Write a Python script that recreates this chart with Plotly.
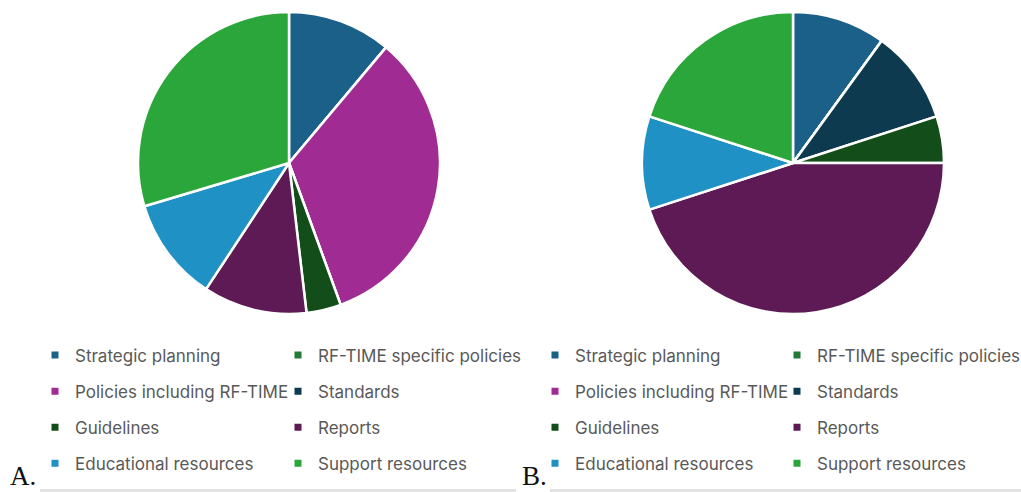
import plotly.graph_objects as go

# ---- data ----
categories = [
    "Strategic planning",
    "RF-TIME specific policies",
    "Policies including RF-TIME",
    "Standards",
    "Guidelines",
    "Reports",
    "Educational resources",
    "Support resources",
]
counts_a = [3, 0, 9, 0, 1, 3, 3, 8]
counts_b = [2, 0, 0, 2, 1, 9, 2, 4]
panel_labels = ["A.", "B."]

colors = [
    "#1b6088",
    "#217a35",
    "#a02b93",
    "#0e3a4f",
    "#134d19",
    "#5e1a54",
    "#1f91c4",
    "#2ba63b",
]

W, H = 1021, 492


def px_x(v):
    return v / W


def px_y(v):
    return 1 - v / H


fig = go.Figure()

pie_boxes = [(138, 440, 12, 314), (642, 944, 12, 314)]
for counts, (x0, x1, y0, y1) in zip([counts_a, counts_b], pie_boxes):
    fig.add_trace(go.Pie(
        labels=categories,
        values=counts,
        sort=False,
        direction="clockwise",
        rotation=0,
        textinfo="none",
        hoverinfo="label+value+percent",
        showlegend=False,
        marker=dict(colors=colors, line=dict(color="white", width=2.5)),
        domain=dict(x=[px_x(x0), px_x(x1)], y=[px_y(y1), px_y(y0)]),
    ))

# legend entries: two columns per panel, filled row by row
legend_left = [[35, 278], [535, 777]]
legend_top = 337.5
legend_names = {}
for p in range(2):
    for col in range(2):
        idx = 1 + 2 * p + col
        legend_names[(p, col)] = "legend" if idx == 1 else f"legend{idx}"

for p in range(2):
    for i, (cat, c) in enumerate(zip(categories, colors)):
        col = i % 2
        fig.add_trace(go.Scatter(
            x=[None], y=[None], mode="markers",
            marker=dict(symbol="square", size=7, color=c),
            name=cat,
            legend=legend_names[(p, col)],
            legendgroup=f"{p}-{i}",
            showlegend=True,
            hoverinfo="skip",
        ))

layout_legends = {}
for (p, col), lname in legend_names.items():
    layout_legends[lname] = dict(
        x=px_x(legend_left[p][col]), y=px_y(legend_top),
        xanchor="left", yanchor="top",
        orientation="v",
        bgcolor="rgba(0,0,0,0)",
        borderwidth=0,
        font=dict(family="Inter", size=17, color="#595959"),
        tracegroupgap=11,
        itemwidth=30,
        itemclick=False, itemdoubleclick=False,
    )

annotations = []
for lab, xpos in zip(panel_labels, [9, 521]):
    annotations.append(dict(
        text=lab, x=px_x(xpos), y=0, xref="paper", yref="paper",
        xanchor="left", yanchor="bottom", showarrow=False,
        borderpad=0,
        font=dict(family="Liberation Serif", size=27, color="#111111"),
    ))

shapes = []
for xa, xb in [(40, 516), (550, 1021)]:
    shapes.append(dict(
        type="line", xref="paper", yref="paper",
        x0=px_x(xa), x1=px_x(xb), y0=px_y(490.5), y1=px_y(490.5),
        line=dict(color="#e3e3e3", width=3),
    ))

fig.update_layout(
    width=W, height=H,
    margin=dict(l=0, r=0, t=0, b=0, autoexpand=False),
    paper_bgcolor="white", plot_bgcolor="white",
    xaxis=dict(visible=False), yaxis=dict(visible=False),
    annotations=annotations,
    shapes=shapes,
    **layout_legends,
)

fig.write_html(
    "out.html",
    config={"displayModeBar": False},
    post_script="document.body.style.margin='0';",
)
